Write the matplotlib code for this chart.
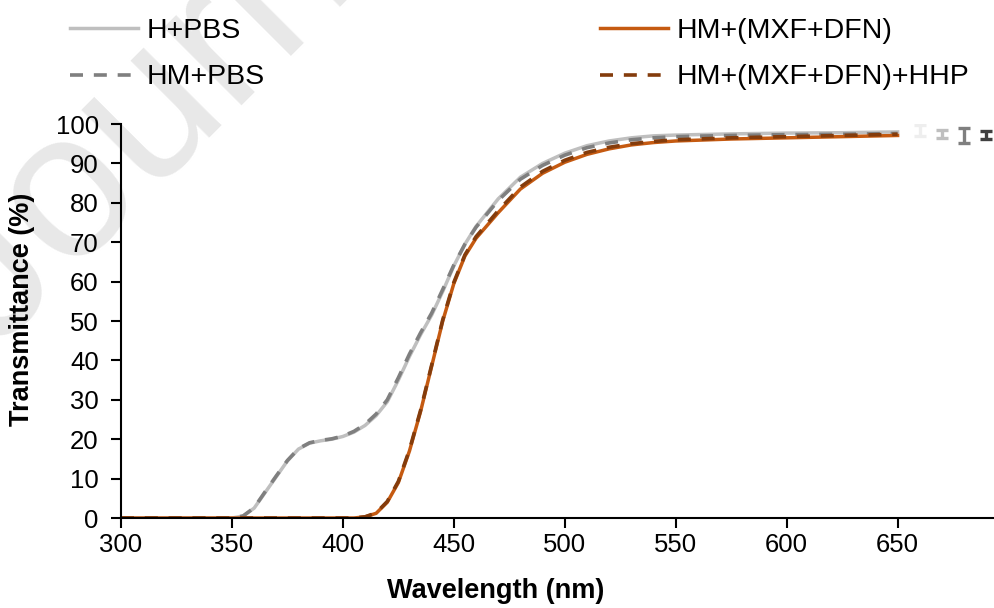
import matplotlib
matplotlib.use("Agg")
import matplotlib.pyplot as plt
import numpy as np

plt.rcParams['font.family'] = ['Liberation Sans', 'DejaVu Sans']

# wavelength grid (nm)
wl = [300, 340, 350, 355, 360, 365, 370, 375, 380, 385, 390, 395, 400, 405,
      410, 415, 420, 425, 430, 435, 440, 445, 450, 455, 460, 470, 480, 490,
      500, 510, 520, 530, 540, 550, 575, 600, 625, 650]

h_pbs = [0, 0, 0, 0.5, 2.5, 6.5, 10.5, 14.5, 17.5, 19, 19.6, 20, 20.7, 21.8,
         23.5, 26, 29.5, 35, 41, 46.5, 51.5, 57.5, 64, 69.5, 74, 81, 86.5, 90,
         92.6, 94.5, 95.7, 96.5, 97, 97.2, 97.5, 97.7, 97.8, 98]
hm_pbs = [0, 0, 0, 0.5, 2.6, 6.7, 10.7, 14.6, 17.6, 19.1, 19.7, 20.1, 20.8, 22,
          23.8, 26.4, 30, 35.6, 41.6, 47, 52, 58, 64.2, 69.5, 73.8, 80.6, 86, 89.5,
          92.1, 94, 95.2, 96, 96.5, 96.8, 97.1, 97.3, 97.4, 97.6]
hm_mxf = [0, 0, 0, 0, 0, 0, 0, 0, 0, 0, 0, 0, 0, 0,
          0.3, 1.2, 4, 9, 17, 27, 38.5, 50, 59.5, 66.5, 71, 77.5, 83.5, 87.5,
          90.3, 92.3, 93.7, 94.7, 95.3, 95.7, 96.2, 96.5, 96.8, 97.1]
hm_mxf_hhp = [0, 0, 0, 0, 0, 0, 0, 0, 0, 0, 0, 0, 0, 0,
              0.3, 1.3, 4.2, 9.3, 17.3, 27.3, 38.8, 50.3, 59.8, 66.8, 71.4, 78, 84, 88,
              90.8, 92.8, 94.1, 95, 95.6, 96, 96.5, 96.8, 97.1, 97.4]

# error bar markers at the right
eb_x = [660, 670, 680, 690]
eb_y = [98.3, 97.5, 97.2, 97.2]
eb_err = [1.4, 1.1, 1.9, 1.0]
eb_colors = ['#eeeeee', '#bfbfbf', '#7f7f7f', '#404040']

fig = plt.figure(figsize=(9.95, 6.08), dpi=100)

# watermark
fig.text(-0.005, 0.42, "Journal Pre-proof", fontsize=150, color='#e8e8e8',
         rotation=45, rotation_mode='anchor', ha='left', va='baseline', zorder=-1)

ax = fig.add_axes([0.1216, 0.148, 0.8764, 0.648])
ax.patch.set_alpha(0)

ax.plot(wl, h_pbs, color='#bfbfbf', lw=2.5, label='H+PBS')
ax.plot(wl, hm_pbs, color='#7f7f7f', lw=2.6, dashes=(3.6, 3.0), label='HM+PBS')
ax.plot(wl, hm_mxf, color='#c55a11', lw=2.5, label='HM+(MXF+DFN)')
ax.plot(wl, hm_mxf_hhp, color='#843c0c', lw=2.6, dashes=(3.6, 3.0), label='HM+(MXF+DFN)+HHP')

for x, y, e, c in zip(eb_x, eb_y, eb_err, eb_colors):
    ax.errorbar([x], [y], yerr=[e], fmt='none', ecolor=c, elinewidth=2.4,
                capsize=4, capthick=2.4)

ax.set_xlim(300, 693)
ax.set_ylim(0, 100)
ax.set_xticks(np.arange(300, 651, 50))
ax.set_yticks(np.arange(0, 101, 10))
for s in ['top', 'right']:
    ax.spines[s].set_visible(False)
for s in ['left', 'bottom']:
    ax.spines[s].set_linewidth(1.5)
ax.tick_params(axis='both', direction='out', length=7, width=1.5, labelsize=18.5)
ax.tick_params(axis='y', pad=9)
ax.tick_params(axis='x', pad=4)

ax.set_xlabel('Wavelength (nm)', fontsize=19.5, fontweight='bold')
ax.set_ylabel('Transmittance (%)', fontsize=19.5, fontweight='bold')
ax.xaxis.set_label_coords(0.43, -0.152)
ax.yaxis.set_label_coords(-0.099, 0.53)

fig.legend(loc='upper left', bbox_to_anchor=(70 / 995, 1 - 18 / 608), ncol=2,
           frameon=False, fontsize=20.5, handlelength=2.4, handletextpad=0.3,
           labelspacing=0.72, columnspacing=11.75, borderpad=0, borderaxespad=0)

fig.savefig('out.png', dpi=100)
